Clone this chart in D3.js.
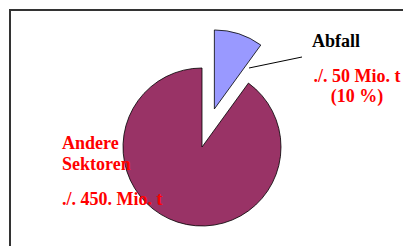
<!DOCTYPE html>
<html>
<head>
<meta charset="utf-8">
<script src="https://cdn.jsdelivr.net/npm/d3@7"></script>
<style>
  html, body { margin: 0; padding: 0; background: #fff; }
  svg { display: block; }
  text { font-family: "Liberation Serif", "DejaVu Serif", "Times New Roman", serif; font-weight: bold; font-size: 18px; }
</style>
</head>
<body>
<svg id="chart"></svg>
<script>
const categories = ["Abfall", "Andere Sektoren"];
const values = [50, 450];
const colors = ["#9999ff", "#993366"];
const exploded = [true, false];

const width = 403, height = 246;
const cx = 202, cy = 147, radius = 79, explode = 40;

const svg = d3.select("#chart").attr("width", width).attr("height", height);

// frame (runs off the right/bottom of the picture)
svg.append("rect")
  .attr("x", 10).attr("y", 10)
  .attr("width", 420).attr("height", 260)
  .attr("fill", "none")
  .attr("stroke", "#333")
  .attr("stroke-width", 2);

const pie = d3.pie().sort(null).value(d => d);
const arcs = pie(values);
const arc = d3.arc().innerRadius(0).outerRadius(radius);

const g = svg.append("g").attr("transform", "translate(" + cx + "," + cy + ")");

g.selectAll("path")
  .data(arcs)
  .enter()
  .append("path")
  .attr("d", arc)
  .attr("fill", (d, i) => colors[i])
  .attr("stroke", "#000")
  .attr("stroke-width", 0.8)
  .attr("transform", (d, i) => {
    if (!exploded[i]) return null;
    let mid = (d.startAngle + d.endAngle) / 2;
    return "translate(" + (Math.sin(mid) * explode) + "," + (-Math.cos(mid) * explode) + ")";
  });

// leader line for Abfall
svg.append("line")
  .attr("x1", 249).attr("y1", 68)
  .attr("x2", 302).attr("y2", 57)
  .attr("stroke", "#000")
  .attr("stroke-width", 1);

function label(x, y, text, color, anchor) {
  svg.append("text")
    .attr("x", x).attr("y", y)
    .attr("text-anchor", anchor || "start")
    .attr("fill", color)
    .text(text);
}

label(312, 47, categories[0], "#000");
label(357, 82, "./. " + values[0] + " Mio. t", "#ff0000", "middle");
label(357, 102, "(" + Math.round(values[0] / d3.sum(values) * 100) + " %)", "#ff0000", "middle");

label(62, 149, "Andere", "#ff0000");
label(62, 170, "Sektoren", "#ff0000");
label(62, 205, "./. " + values[1] + ". Mio. t", "#ff0000");
</script>
</body>
</html>
